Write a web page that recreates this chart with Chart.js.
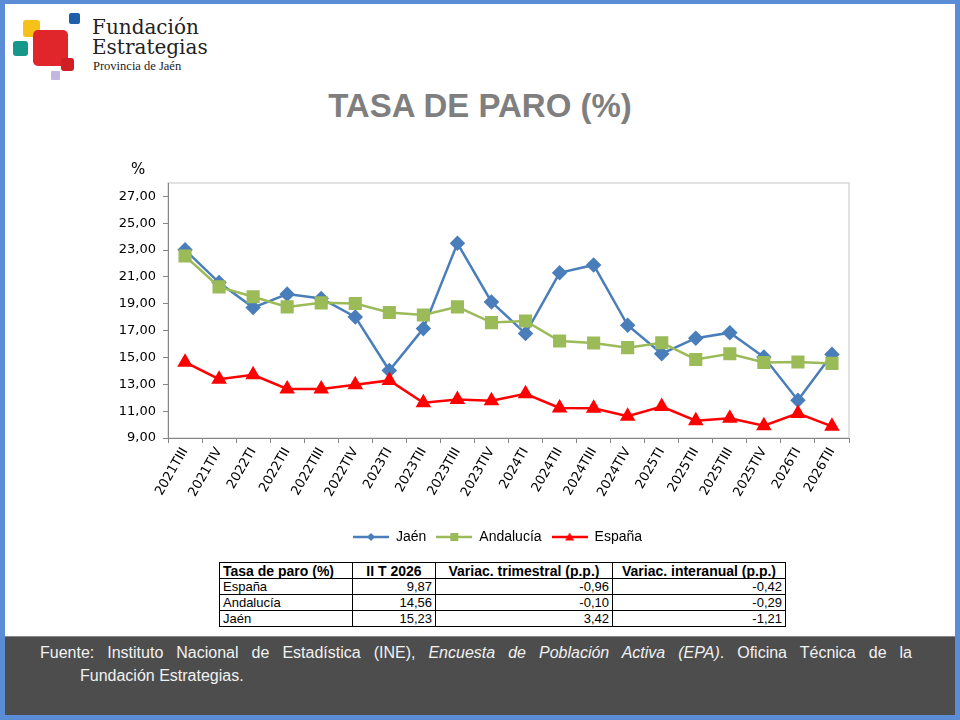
<!DOCTYPE html>
<html lang="es">
<head>
<meta charset="utf-8">
<title>Tasa de paro (%)</title>
<script src="https://cdn.jsdelivr.net/npm/chart.js@4.4.1/dist/chart.umd.min.js"></script>
<style>
  body { margin: 0; background: #fff; }
  #page { position: relative; width: 960px; height: 720px; overflow: hidden; background: #fff; font-family: "Liberation Sans", Arial, sans-serif; }
  #frame { position: absolute; left: 0; top: 0; width: 960px; height: 720px; box-sizing: border-box; border-style: solid; border-color: #5b8dd6; border-width: 4px 5px 5px 5px; pointer-events: none; }
  .sq { position: absolute; border-radius: 3px; }
  .logo-text { position: absolute; font-family: "DejaVu Serif", serif; color: #222; white-space: nowrap; }
  #title { position: absolute; left: 0; top: 86px; width: 960px; text-align: center; font: bold 33px/40px "Liberation Sans", Arial, sans-serif; color: #7f7f7f; }
  #chartBox { position: absolute; left: 100px; top: 150px; width: 826px; height: 404px; }
  #summary { position: absolute; left: 219px; top: 562px; border-collapse: collapse; font: 13px/14px "Liberation Sans", Arial, sans-serif; color: #000; }
  #summary td, #summary th { border: 1px solid #000; padding: 0 3px; height: 15px; }
  #summary th { font-weight: bold; font-size: 14px; text-align: center; }
  #summary td { text-align: right; }
  #summary td:first-child, #summary th:first-child { text-align: left; }
  #footer { position: absolute; left: 5px; top: 636px; width: 950px; height: 79px; background: #4d4d4d; border-top: 1px solid #8a8a8a; box-sizing: border-box; }
  .src { position: absolute; font: 16px/23px "Liberation Sans", Arial, sans-serif; color: #f2f2f2; white-space: nowrap; }
  #src1 { left: 35px; top: 4px; width: 872px; text-align: justify; text-align-last: justify; white-space: normal; }
  #src2 { left: 75px; top: 27px; }
</style>
</head>
<body>
<div id="page">
  <div class="sq" style="left:23px;top:20px;width:17px;height:17px;background:#f6c21a"></div>
  <div class="sq" style="left:69px;top:13px;width:11px;height:11px;background:#1f5fa8;border-radius:2px"></div>
  <div class="sq" style="left:13px;top:41px;width:15px;height:15px;background:#17978a"></div>
  <div class="sq" style="left:33px;top:30px;width:35px;height:36px;background:#e0262a;border-radius:5px"></div>
  <div class="sq" style="left:61px;top:58px;width:13px;height:13px;background:#d01f24"></div>
  <div class="sq" style="left:51px;top:71px;width:9px;height:9px;background:#c3b6e2;border-radius:1px"></div>
  <div class="logo-text" style="left:92px;top:15px;font-size:20px">Fundación</div>
  <div class="logo-text" style="left:92px;top:35px;font-size:20px">Estrategias</div>
  <div class="logo-text" style="left:93px;top:59px;font-size:12.5px;font-family:'Liberation Serif',serif">Provincia de Jaén</div>

  <div id="title">TASA DE PARO (%)</div>

  <div id="chartBox"><canvas id="paroChart" width="826" height="404"></canvas></div>

  <table id="summary"><thead></thead><tbody></tbody></table>

  <div id="footer">
    <div class="src" id="src1">Fuente: Instituto Nacional de Estadística (INE), <i>Encuesta de Población Activa (EPA)</i>. Oficina Técnica de la</div>
    <div class="src" id="src2">Fundación Estrategias.</div>
  </div>
  <div id="frame"></div>
</div>

<script>
const quarters = ['2021TIII', '2021TIV', '2022TI', '2022TII', '2022TIII', '2022TIV', '2023TI', '2023TII', '2023TIII', '2023TIV',
    '2024TI', '2024TII', '2024TIII', '2024TIV', '2025TI', '2025TII', '2025TIII', '2025TIV', '2026TI', '2026TII'];
const jaen = [23.02, 20.58, 18.72, 19.72, 19.40, 18.02, 14.03, 17.15, 23.51, 19.14,
    16.78, 21.31, 21.89, 17.40, 15.28, 16.44, 16.85, 15.03, 11.81, 15.23];
const andalucia = [22.56, 20.26, 19.52, 18.77, 19.07, 19.02, 18.35, 18.17, 18.77, 17.60,
    17.72, 16.23, 16.08, 15.73, 16.10, 14.85, 15.28, 14.63, 14.66, 14.56];
const espana = [14.65, 13.38, 13.71, 12.66, 12.66, 12.96, 13.29, 11.62, 11.86, 11.77,
    12.29, 11.24, 11.22, 10.62, 11.34, 10.29, 10.47, 9.92, 10.83, 9.87];
const yTicks = [9, 11, 13, 15, 17, 19, 21, 23, 25, 27];

const tableHeader = ['Tasa de paro (%)', 'II T 2026', 'Variac. trimestral (p.p.)', 'Variac. interanual (p.p.)'];
const tableRegions = ['España', 'Andalucía', 'Jaén'];
const tableLatest = ['9,87', '14,56', '15,23'];
const tableQuarterChange = ['-0,96', '-0,10', '3,42'];
const tableYearChange = ['-0,42', '-0,29', '-1,21'];
const colWidths = [133, 83, 177, 173];

// summary table
const thead = document.querySelector('#summary thead');
const hr = thead.insertRow(0);
tableHeader.forEach((h, i) => {
    const th = document.createElement('th');
    th.textContent = h;
    th.style.width = (colWidths[i] - 7) + 'px';
    hr.appendChild(th);
});
const tbody = document.querySelector('#summary tbody');
tableRegions.forEach((r, i) => {
    const row = tbody.insertRow(-1);
    [r, tableLatest[i], tableQuarterChange[i], tableYearChange[i]].forEach(v => {
        row.insertCell(-1).textContent = v;
    });
});

// legend icon: line with marker in the middle
function legendIcon(color, shape) {
    const c = document.createElement('canvas');
    c.width = 36;
    c.height = 14;
    const g = c.getContext('2d');
    g.strokeStyle = color;
    g.fillStyle = color;
    g.lineWidth = 2.5;
    g.beginPath();
    g.moveTo(0, 7);
    g.lineTo(36, 7);
    g.stroke();
    g.beginPath();
    if (shape === 'rectRot') {
        g.moveTo(18, 3); g.lineTo(22, 7); g.lineTo(18, 11); g.lineTo(14, 7);
    } else if (shape === 'rect') {
        g.rect(14, 3, 8, 8);
    } else {
        g.moveTo(18, 2.5); g.lineTo(22.5, 10.5); g.lineTo(13.5, 10.5);
    }
    g.closePath();
    g.fill();
    return c;
}

const framePlugin = {
    id: 'frame',
    beforeDraw(chart) {
        const {ctx, chartArea: a} = chart;
        ctx.save();
        ctx.strokeStyle = '#d9d9d9';
        ctx.lineWidth = 1.5;
        ctx.strokeRect(a.left, a.top, a.right - a.left, a.bottom - a.top);
        ctx.fillStyle = '#000';
        ctx.font = '15px "DejaVu Sans"';
        ctx.textAlign = 'left';
        ctx.fillText('%', a.left - 37, a.top - 13);
        ctx.restore();
    }
};

const tickFont = {family: '"DejaVu Sans", sans-serif', size: 13};

const ctx = document.getElementById('paroChart').getContext('2d');
const chart = new Chart(ctx, {
    type: 'line',
    data: {
        labels: quarters,
        datasets: [
            {
                label: 'Jaén',
                data: jaen,
                borderColor: '#4a7ebb',
                backgroundColor: '#4a7ebb',
                pointStyle: 'rectRot',
                pointRadius: 6,
                borderWidth: 2.5,
                order: 2
            },
            {
                label: 'Andalucía',
                data: andalucia,
                borderColor: '#9bbb59',
                backgroundColor: '#9bbb59',
                pointStyle: 'rect',
                pointRadius: 7.5,
                borderWidth: 2.5,
                order: 1
            },
            {
                label: 'España',
                data: espana,
                borderColor: '#ff0000',
                backgroundColor: '#ff0000',
                pointStyle: 'triangle',
                pointRadius: 6.5,
                borderWidth: 2.5,
                order: 0
            }
        ]
    },
    options: {
        responsive: false,
        animation: false,
        layout: {padding: {top: 33, right: 31, left: 0, bottom: 0}},
        plugins: {
            tooltip: {enabled: false},
            legend: {
                position: 'bottom',
                labels: {
                    usePointStyle: true,
                    pointStyleWidth: 36,
                    padding: 10,
                    color: '#000',
                    font: {family: '"Liberation Sans", Arial, sans-serif', size: 14},
                    generateLabels: c => c.data.datasets.map((ds, i) => ({
                        text: ds.label,
                        pointStyle: legendIcon(ds.borderColor, ds.pointStyle),
                        fillStyle: ds.backgroundColor,
                        strokeStyle: ds.borderColor,
                        lineWidth: 0,
                        hidden: false,
                        datasetIndex: i,
                        fontColor: '#000'
                    }))
                }
            }
        },
        scales: {
            x: {
                offset: true,
                grid: {offset: true, drawOnChartArea: false, tickLength: 5, color: '#868686'},
                border: {color: '#868686'},
                ticks: {minRotation: 60, maxRotation: 60, autoSkip: false, padding: 2, color: '#000', font: tickFont},
                afterFit(scale) { scale.height = 82; }
            },
            y: {
                min: 9,
                max: 28,
                afterBuildTicks(scale) { scale.ticks = yTicks.map(v => ({value: v})); },
                grid: {drawOnChartArea: false, tickLength: 5, color: '#868686'},
                border: {color: '#868686'},
                ticks: {padding: 7, color: '#000', font: tickFont, callback: v => v.toFixed(2).replace('.', ',')},
                afterFit(scale) { scale.width = 68; }
            },
            // empty right-hand spacer so the legend sits where it does in the original
            spacer: {
                position: 'right',
                grid: {display: false},
                border: {display: false},
                ticks: {display: false},
                afterFit(scale) { scale.width = 46; }
            }
        }
    },
    plugins: [framePlugin]
});
</script>
</body>
</html>
